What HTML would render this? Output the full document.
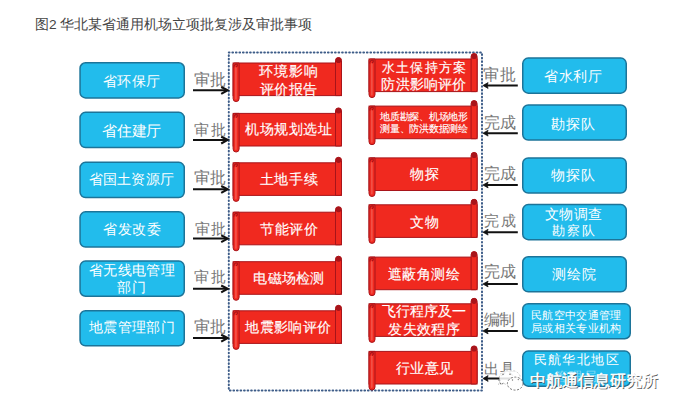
<!DOCTYPE html>
<html><head><meta charset="utf-8"><style>
html,body{margin:0;padding:0;background:#fff;width:679px;height:410px;overflow:hidden}
svg{display:block;font-family:"Liberation Sans", sans-serif}
</style></head><body>
<svg width="679" height="410" viewBox="0 0 679 410">
<rect x="228.8" y="52.6" width="253.2" height="337.9" fill="none" stroke="#3d5c88" stroke-width="2" stroke-dasharray="0.7 2.84" stroke-linecap="round"/>
<rect x="80.05" y="62.75" width="104.20" height="35.20" rx="5.5" ry="5.5" fill="#22bcec" stroke="#1c7499" stroke-width="1.5"/>
<text x="110.06 124.40 138.75 153.09" y="85.77" font-size="14.34" fill="#fff" text-anchor="middle" >省环保厅</text>
<text x="202.37 218.23" y="84.90" font-size="15.85" fill="#777" text-anchor="middle" >审批</text>
<line x1="193" y1="90.2" x2="226.7" y2="90.2" stroke="#111" stroke-width="2"/><path d="M221.20,87.00 L227.7,90.2 L221.20,93.80" fill="none" stroke="#111" stroke-width="2.1"/>
<rect x="80.05" y="112.35" width="104.20" height="35.20" rx="5.5" ry="5.5" fill="#22bcec" stroke="#1c7499" stroke-width="1.5"/>
<text x="109.92 124.54 139.16 153.78" y="135.72" font-size="14.59" fill="#fff" text-anchor="middle" >省住建厅</text>
<text x="201.83 218.57" y="135.00" font-size="15.06" fill="#777" text-anchor="middle" >审批</text>
<line x1="193" y1="139.9" x2="226.7" y2="139.9" stroke="#111" stroke-width="2"/><path d="M221.20,136.70 L227.7,139.9 L221.20,143.50" fill="none" stroke="#111" stroke-width="2.1"/>
<rect x="80.05" y="162.35" width="104.20" height="35.20" rx="5.5" ry="5.5" fill="#22bcec" stroke="#1c7499" stroke-width="1.5"/>
<text x="95.75 109.95 124.15 138.35 152.55 166.75" y="184.37" font-size="14.20" fill="#fff" text-anchor="middle" >省国土资源厅</text>
<text x="202.18 218.32" y="182.97" font-size="15.65" fill="#777" text-anchor="middle" >审批</text>
<line x1="193" y1="189.2" x2="226.7" y2="189.2" stroke="#111" stroke-width="2"/><path d="M221.20,186.00 L227.7,189.2 L221.20,192.80" fill="none" stroke="#111" stroke-width="2.1"/>
<rect x="80.05" y="211.85" width="104.20" height="35.20" rx="5.5" ry="5.5" fill="#22bcec" stroke="#1c7499" stroke-width="1.5"/>
<text x="110.37 124.86 139.34 153.83" y="233.68" font-size="14.48" fill="#fff" text-anchor="middle" >省发改委</text>
<text x="202.03 218.47" y="234.39" font-size="15.29" fill="#777" text-anchor="middle" >审批</text>
<line x1="193" y1="238.6" x2="226.7" y2="238.6" stroke="#111" stroke-width="2"/><path d="M221.20,235.40 L227.7,238.6 L221.20,242.20" fill="none" stroke="#111" stroke-width="2.1"/>
<rect x="80.05" y="261.05" width="104.20" height="35.20" rx="5.5" ry="5.5" fill="#22bcec" stroke="#1c7499" stroke-width="1.5"/>
<text x="95.91 110.25 124.58 138.92 153.25 167.59" y="275.34" font-size="14.12" fill="#fff" text-anchor="middle" >省无线电管理</text>
<text x="124.43 138.57" y="292.15" font-size="14.15" fill="#fff" text-anchor="middle" >部门</text>
<text x="201.87 218.63" y="282.40" font-size="14.94" fill="#777" text-anchor="middle" >审批</text>
<line x1="193" y1="288.7" x2="226.7" y2="288.7" stroke="#111" stroke-width="2"/><path d="M221.20,285.50 L227.7,288.7 L221.20,292.30" fill="none" stroke="#111" stroke-width="2.1"/>
<rect x="80.05" y="310.65" width="104.20" height="35.20" rx="5.5" ry="5.5" fill="#22bcec" stroke="#1c7499" stroke-width="1.5"/>
<text x="95.99 110.30 124.60 138.90 153.20 167.51" y="332.46" font-size="14.30" fill="#fff" text-anchor="middle" >地震管理部门</text>
<text x="202.34 218.26" y="332.47" font-size="15.76" fill="#777" text-anchor="middle" >审批</text>
<line x1="193" y1="338.0" x2="226.7" y2="338.0" stroke="#111" stroke-width="2"/><path d="M221.20,334.80 L227.7,338.0 L221.20,341.60" fill="none" stroke="#111" stroke-width="2.1"/>
<rect x="522.75" y="58.05" width="103.50" height="35.10" rx="5.5" ry="5.5" fill="#22bcec" stroke="#1c7499" stroke-width="1.5"/>
<text x="551.41 565.94 580.46 594.99" y="81.44" font-size="14.12" fill="#fff" text-anchor="middle" >省水利厅</text>
<text x="491.29 508.41" y="79.86" font-size="16.12" fill="#777" text-anchor="middle" >审批</text>
<line x1="484.9" y1="85.5" x2="517.8" y2="85.5" stroke="#111" stroke-width="1.9"/><path d="M482.9,85.5 L488.10,82.60 L487.10,85.50 L488.10,88.40 Z" fill="#111" stroke="#111" stroke-width="0.7" stroke-linejoin="round"/>
<rect x="522.75" y="104.95" width="103.50" height="35.10" rx="5.5" ry="5.5" fill="#22bcec" stroke="#1c7499" stroke-width="1.5"/>
<text x="558.01 573.20 588.39" y="128.64" font-size="14.12" fill="#fff" text-anchor="middle" >勘探队</text>
<text x="491.90 507.60" y="128.04" font-size="15.69" fill="#777" text-anchor="middle" >完成</text>
<line x1="484.9" y1="133.2" x2="517.8" y2="133.2" stroke="#111" stroke-width="1.9"/><path d="M482.9,133.2 L488.10,130.30 L487.10,133.20 L488.10,136.10 Z" fill="#111" stroke="#111" stroke-width="0.7" stroke-linejoin="round"/>
<rect x="522.75" y="157.95" width="103.50" height="35.10" rx="5.5" ry="5.5" fill="#22bcec" stroke="#1c7499" stroke-width="1.5"/>
<text x="558.40 573.25 588.10" y="180.35" font-size="13.65" fill="#fff" text-anchor="middle" >物探队</text>
<text x="491.63 508.17" y="178.78" font-size="15.53" fill="#777" text-anchor="middle" >完成</text>
<line x1="484.9" y1="185.0" x2="517.8" y2="185.0" stroke="#111" stroke-width="1.9"/><path d="M482.9,185.0 L488.10,182.10 L487.10,185.00 L488.10,187.90 Z" fill="#111" stroke="#111" stroke-width="0.7" stroke-linejoin="round"/>
<rect x="522.75" y="204.55" width="103.50" height="35.10" rx="5.5" ry="5.5" fill="#22bcec" stroke="#1c7499" stroke-width="1.5"/>
<text x="551.95 566.32 580.68 595.05" y="219.06" font-size="13.53" fill="#fff" text-anchor="middle" >文物调查</text>
<text x="558.15 573.25 588.35" y="234.78" font-size="13.06" fill="#fff" text-anchor="middle" >勘察队</text>
<text x="491.48 508.32" y="225.79" font-size="15.18" fill="#777" text-anchor="middle" >完成</text>
<line x1="484.9" y1="232.2" x2="517.8" y2="232.2" stroke="#111" stroke-width="1.9"/><path d="M482.9,232.2 L488.10,229.30 L487.10,232.20 L488.10,235.10 Z" fill="#111" stroke="#111" stroke-width="0.7" stroke-linejoin="round"/>
<rect x="522.75" y="256.75" width="103.50" height="35.10" rx="5.5" ry="5.5" fill="#22bcec" stroke="#1c7499" stroke-width="1.5"/>
<text x="558.50 573.60 588.70" y="279.15" font-size="13.65" fill="#fff" text-anchor="middle" >测绘院</text>
<text x="491.70 507.60" y="277.37" font-size="15.90" fill="#777" text-anchor="middle" >完成</text>
<line x1="484.9" y1="284.0" x2="517.8" y2="284.0" stroke="#111" stroke-width="1.9"/><path d="M482.9,284.0 L488.10,281.10 L487.10,284.00 L488.10,286.90 Z" fill="#111" stroke="#111" stroke-width="0.7" stroke-linejoin="round"/>
<rect x="522.75" y="303.65" width="107.50" height="35.10" rx="5.5" ry="5.5" fill="#22bcec" stroke="#1c7499" stroke-width="1.5"/>
<text x="536.59 547.92 559.25 570.58 581.92 593.25 604.58 615.91" y="319.26" font-size="11.33" fill="#fff" text-anchor="middle" >民航空中交通管理</text>
<text x="536.59 547.92 559.25 570.58 581.92 593.25 604.58 615.91" y="332.36" font-size="11.33" fill="#fff" text-anchor="middle" >局或相关专业机构</text>
<text x="491.53 507.27" y="324.66" font-size="15.74" fill="#777" text-anchor="middle" >编制</text>
<line x1="484.9" y1="331.0" x2="517.8" y2="331.0" stroke="#111" stroke-width="1.9"/><path d="M482.9,331.0 L488.10,328.10 L487.10,331.00 L488.10,333.90 Z" fill="#111" stroke="#111" stroke-width="0.7" stroke-linejoin="round"/>
<rect x="522.75" y="351.05" width="107.50" height="35.10" rx="5.5" ry="5.5" fill="#22bcec" stroke="#1c7499" stroke-width="1.5"/>
<text x="540.09 554.52 568.94 583.36 597.78 612.21" y="363.88" font-size="12.94" fill="#fff" text-anchor="middle" >民航华北地区</text>
<text x="560.19 575.25 590.31" y="380.58" font-size="12.94" fill="#fff" text-anchor="middle" fill-opacity="0.45">管理局</text>
<text x="491.38 507.42" y="373.58" font-size="15.41" fill="#777" text-anchor="middle" >出具</text>
<line x1="484.9" y1="378.5" x2="517.8" y2="378.5" stroke="#111" stroke-width="1.9"/><path d="M482.9,378.5 L488.10,375.60 L487.10,378.50 L488.10,381.40 Z" fill="#111" stroke="#111" stroke-width="0.7" stroke-linejoin="round"/>
<rect x="233.1" y="63.0" width="108.40" height="32.6" fill="#f0291f" stroke="#a8141a" stroke-width="1"/>
<path d="M335.50,95.60 L335.50,60.50 A3,3 0 0 1 341.50,60.50 L341.50,94.10 Q341.50,95.60 340.00,95.60 Z" fill="#f0291f" stroke="#a8141a" stroke-width="1"/>
<circle cx="338.50" cy="60.30" r="2.8" fill="#a8141a"/>
<path d="M233.10,64.50 Q233.10,63.00 234.60,63.00 L239.10,63.00 L239.10,98.60 A3,3 0 0 1 233.10,98.60 Z" fill="#f0291f" stroke="#a8141a" stroke-width="1"/>
<rect x="235.00" y="67.00" width="1.8" height="32.60" rx="0.9" fill="#f45a50" fill-opacity="0.8"/>
<path d="M233.80,67.50 Q234.10,63.90 237.10,64.00 Q238.10,66.00 236.10,67.00" fill="none" stroke="#a8141a" stroke-width="1.1"/>
<text x="266.40 281.10 295.80 310.50" y="76.05" font-size="13.65" fill="#fff" text-anchor="middle" stroke="#fff" stroke-width="0.15">环境影响</text>
<text x="266.72 281.21 295.69 310.18" y="93.63" font-size="14.35" fill="#fff" text-anchor="middle" stroke="#fff" stroke-width="0.15">评价报告</text>
<rect x="233.1" y="113.4" width="108.40" height="32.6" fill="#f0291f" stroke="#a8141a" stroke-width="1"/>
<path d="M335.50,146.00 L335.50,110.90 A3,3 0 0 1 341.50,110.90 L341.50,144.50 Q341.50,146.00 340.00,146.00 Z" fill="#f0291f" stroke="#a8141a" stroke-width="1"/>
<circle cx="338.50" cy="110.70" r="2.8" fill="#a8141a"/>
<path d="M233.10,114.90 Q233.10,113.40 234.60,113.40 L239.10,113.40 L239.10,149.00 A3,3 0 0 1 233.10,149.00 Z" fill="#f0291f" stroke="#a8141a" stroke-width="1"/>
<rect x="235.00" y="117.40" width="1.8" height="32.60" rx="0.9" fill="#f45a50" fill-opacity="0.8"/>
<path d="M233.80,117.90 Q234.10,114.30 237.10,114.40 Q238.10,116.40 236.10,117.40" fill="none" stroke="#a8141a" stroke-width="1.1"/>
<text x="252.27 266.74 281.21 295.69 310.16 324.63" y="134.47" font-size="14.47" fill="#fff" text-anchor="middle" stroke="#fff" stroke-width="0.15">机场规划选址</text>
<rect x="233.1" y="162.8" width="108.40" height="32.6" fill="#f0291f" stroke="#a8141a" stroke-width="1"/>
<path d="M335.50,195.40 L335.50,160.30 A3,3 0 0 1 341.50,160.30 L341.50,193.90 Q341.50,195.40 340.00,195.40 Z" fill="#f0291f" stroke="#a8141a" stroke-width="1"/>
<circle cx="338.50" cy="160.10" r="2.8" fill="#a8141a"/>
<path d="M233.10,164.30 Q233.10,162.80 234.60,162.80 L239.10,162.80 L239.10,198.40 A3,3 0 0 1 233.10,198.40 Z" fill="#f0291f" stroke="#a8141a" stroke-width="1"/>
<rect x="235.00" y="166.80" width="1.8" height="32.60" rx="0.9" fill="#f45a50" fill-opacity="0.8"/>
<path d="M233.80,167.30 Q234.10,163.70 237.10,163.80 Q238.10,165.80 236.10,166.80" fill="none" stroke="#a8141a" stroke-width="1.1"/>
<text x="266.71 281.47 296.23 310.99" y="184.14" font-size="14.12" fill="#fff" text-anchor="middle" stroke="#fff" stroke-width="0.15">土地手续</text>
<rect x="233.1" y="212.2" width="108.40" height="32.6" fill="#f0291f" stroke="#a8141a" stroke-width="1"/>
<path d="M335.50,244.80 L335.50,209.70 A3,3 0 0 1 341.50,209.70 L341.50,243.30 Q341.50,244.80 340.00,244.80 Z" fill="#f0291f" stroke="#a8141a" stroke-width="1"/>
<circle cx="338.50" cy="209.50" r="2.8" fill="#a8141a"/>
<path d="M233.10,213.70 Q233.10,212.20 234.60,212.20 L239.10,212.20 L239.10,247.80 A3,3 0 0 1 233.10,247.80 Z" fill="#f0291f" stroke="#a8141a" stroke-width="1"/>
<rect x="235.00" y="216.20" width="1.8" height="32.60" rx="0.9" fill="#f45a50" fill-opacity="0.8"/>
<path d="M233.80,216.70 Q234.10,213.10 237.10,213.20 Q238.10,215.20 236.10,216.20" fill="none" stroke="#a8141a" stroke-width="1.1"/>
<text x="267.37 281.86 296.34 310.83" y="233.73" font-size="14.48" fill="#fff" text-anchor="middle" stroke="#fff" stroke-width="0.15">节能评价</text>
<rect x="233.1" y="261.7" width="108.40" height="32.6" fill="#f0291f" stroke="#a8141a" stroke-width="1"/>
<path d="M335.50,294.30 L335.50,259.20 A3,3 0 0 1 341.50,259.20 L341.50,292.80 Q341.50,294.30 340.00,294.30 Z" fill="#f0291f" stroke="#a8141a" stroke-width="1"/>
<circle cx="338.50" cy="259.00" r="2.8" fill="#a8141a"/>
<path d="M233.10,263.20 Q233.10,261.70 234.60,261.70 L239.10,261.70 L239.10,297.30 A3,3 0 0 1 233.10,297.30 Z" fill="#f0291f" stroke="#a8141a" stroke-width="1"/>
<rect x="235.00" y="265.70" width="1.8" height="32.60" rx="0.9" fill="#f45a50" fill-opacity="0.8"/>
<path d="M233.80,266.20 Q234.10,262.60 237.10,262.70 Q238.10,264.70 236.10,265.70" fill="none" stroke="#a8141a" stroke-width="1.1"/>
<text x="260.27 274.51 288.75 302.99 317.23" y="282.93" font-size="14.24" fill="#fff" text-anchor="middle" stroke="#fff" stroke-width="0.15">电磁场检测</text>
<rect x="233.1" y="310.8" width="108.40" height="32.6" fill="#f0291f" stroke="#a8141a" stroke-width="1"/>
<path d="M335.50,343.40 L335.50,308.30 A3,3 0 0 1 341.50,308.30 L341.50,341.90 Q341.50,343.40 340.00,343.40 Z" fill="#f0291f" stroke="#a8141a" stroke-width="1"/>
<circle cx="338.50" cy="308.10" r="2.8" fill="#a8141a"/>
<path d="M233.10,312.30 Q233.10,310.80 234.60,310.80 L239.10,310.80 L239.10,346.40 A3,3 0 0 1 233.10,346.40 Z" fill="#f0291f" stroke="#a8141a" stroke-width="1"/>
<rect x="235.00" y="314.80" width="1.8" height="32.60" rx="0.9" fill="#f45a50" fill-opacity="0.8"/>
<path d="M233.80,315.30 Q234.10,311.70 237.10,311.80 Q238.10,313.80 236.10,314.80" fill="none" stroke="#a8141a" stroke-width="1.1"/>
<text x="252.41 266.74 281.08 295.42 309.76 324.09" y="332.47" font-size="14.34" fill="#fff" text-anchor="middle" stroke="#fff" stroke-width="0.15">地震影响评价</text>
<rect x="369.0" y="59.0" width="108.10" height="32.6" fill="#f0291f" stroke="#a8141a" stroke-width="1"/>
<path d="M471.10,91.60 L471.10,56.50 A3,3 0 0 1 477.10,56.50 L477.10,90.10 Q477.10,91.60 475.60,91.60 Z" fill="#f0291f" stroke="#a8141a" stroke-width="1"/>
<circle cx="474.10" cy="56.30" r="2.8" fill="#a8141a"/>
<path d="M369.00,60.50 Q369.00,59.00 370.50,59.00 L375.00,59.00 L375.00,94.60 A3,3 0 0 1 369.00,94.60 Z" fill="#f0291f" stroke="#a8141a" stroke-width="1"/>
<rect x="370.90" y="63.00" width="1.8" height="32.60" rx="0.9" fill="#f45a50" fill-opacity="0.8"/>
<path d="M369.70,63.50 Q370.00,59.90 373.00,60.00 Q374.00,62.00 372.00,63.00" fill="none" stroke="#a8141a" stroke-width="1.1"/>
<text x="388.05 402.39 416.73 431.07 445.41 459.75" y="71.87" font-size="13.29" fill="#fff" text-anchor="middle" stroke="#fff" stroke-width="0.15">水土保持方案</text>
<text x="388.44 402.62 416.81 430.99 445.18 459.36" y="88.81" font-size="14.18" fill="#fff" text-anchor="middle" stroke="#fff" stroke-width="0.15">防洪影响评价</text>
<rect x="369.0" y="106.1" width="108.10" height="32.6" fill="#f0291f" stroke="#a8141a" stroke-width="1"/>
<path d="M471.10,138.70 L471.10,103.60 A3,3 0 0 1 477.10,103.60 L477.10,137.20 Q477.10,138.70 475.60,138.70 Z" fill="#f0291f" stroke="#a8141a" stroke-width="1"/>
<circle cx="474.10" cy="103.40" r="2.8" fill="#a8141a"/>
<path d="M369.00,107.60 Q369.00,106.10 370.50,106.10 L375.00,106.10 L375.00,141.70 A3,3 0 0 1 369.00,141.70 Z" fill="#f0291f" stroke="#a8141a" stroke-width="1"/>
<rect x="370.90" y="110.10" width="1.8" height="32.60" rx="0.9" fill="#f45a50" fill-opacity="0.8"/>
<path d="M369.70,110.60 Q370.00,107.00 373.00,107.10 Q374.00,109.10 372.00,110.10" fill="none" stroke="#a8141a" stroke-width="1.1"/>
<text x="385.27 394.98 404.69 414.39 424.10 433.81 443.51 453.22 462.93" y="119.59" font-size="9.71" fill="#fff" text-anchor="middle" stroke="#fff" stroke-width="0.15">地质勘探、机场地形</text>
<text x="385.27 394.98 404.69 414.39 424.10 433.81 443.51 453.22 462.93" y="132.09" font-size="9.71" fill="#fff" text-anchor="middle" stroke="#fff" stroke-width="0.15">测量、防洪数据测绘</text>
<rect x="369.0" y="157.9" width="108.10" height="32.6" fill="#f0291f" stroke="#a8141a" stroke-width="1"/>
<path d="M471.10,190.50 L471.10,155.40 A3,3 0 0 1 477.10,155.40 L477.10,189.00 Q477.10,190.50 475.60,190.50 Z" fill="#f0291f" stroke="#a8141a" stroke-width="1"/>
<circle cx="474.10" cy="155.20" r="2.8" fill="#a8141a"/>
<path d="M369.00,159.40 Q369.00,157.90 370.50,157.90 L375.00,157.90 L375.00,193.50 A3,3 0 0 1 369.00,193.50 Z" fill="#f0291f" stroke="#a8141a" stroke-width="1"/>
<rect x="370.90" y="161.90" width="1.8" height="32.60" rx="0.9" fill="#f45a50" fill-opacity="0.8"/>
<path d="M369.70,162.40 Q370.00,158.80 373.00,158.90 Q374.00,160.90 372.00,161.90" fill="none" stroke="#a8141a" stroke-width="1.1"/>
<text x="416.71 432.09" y="179.14" font-size="14.12" fill="#fff" text-anchor="middle" stroke="#fff" stroke-width="0.15">物探</text>
<rect x="369.0" y="204.8" width="108.10" height="32.6" fill="#f0291f" stroke="#a8141a" stroke-width="1"/>
<path d="M471.10,237.40 L471.10,202.30 A3,3 0 0 1 477.10,202.30 L477.10,235.90 Q477.10,237.40 475.60,237.40 Z" fill="#f0291f" stroke="#a8141a" stroke-width="1"/>
<circle cx="474.10" cy="202.10" r="2.8" fill="#a8141a"/>
<path d="M369.00,206.30 Q369.00,204.80 370.50,204.80 L375.00,204.80 L375.00,240.40 A3,3 0 0 1 369.00,240.40 Z" fill="#f0291f" stroke="#a8141a" stroke-width="1"/>
<rect x="370.90" y="208.80" width="1.8" height="32.60" rx="0.9" fill="#f45a50" fill-opacity="0.8"/>
<path d="M369.70,209.30 Q370.00,205.70 373.00,205.80 Q374.00,207.80 372.00,208.80" fill="none" stroke="#a8141a" stroke-width="1.1"/>
<text x="417.20 432.30" y="226.65" font-size="13.65" fill="#fff" text-anchor="middle" stroke="#fff" stroke-width="0.15">文物</text>
<rect x="369.0" y="257.1" width="108.10" height="32.6" fill="#f0291f" stroke="#a8141a" stroke-width="1"/>
<path d="M471.10,289.70 L471.10,254.60 A3,3 0 0 1 477.10,254.60 L477.10,288.20 Q477.10,289.70 475.60,289.70 Z" fill="#f0291f" stroke="#a8141a" stroke-width="1"/>
<circle cx="474.10" cy="254.40" r="2.8" fill="#a8141a"/>
<path d="M369.00,258.60 Q369.00,257.10 370.50,257.10 L375.00,257.10 L375.00,292.70 A3,3 0 0 1 369.00,292.70 Z" fill="#f0291f" stroke="#a8141a" stroke-width="1"/>
<rect x="370.90" y="261.10" width="1.8" height="32.60" rx="0.9" fill="#f45a50" fill-opacity="0.8"/>
<path d="M369.70,261.60 Q370.00,258.00 373.00,258.10 Q374.00,260.10 372.00,261.10" fill="none" stroke="#a8141a" stroke-width="1.1"/>
<text x="394.76 409.31 423.85 438.39 452.94" y="279.13" font-size="14.24" fill="#fff" text-anchor="middle" stroke="#fff" stroke-width="0.15">遮蔽角测绘</text>
<rect x="369.0" y="303.8" width="108.10" height="32.6" fill="#f0291f" stroke="#a8141a" stroke-width="1"/>
<path d="M471.10,336.40 L471.10,301.30 A3,3 0 0 1 477.10,301.30 L477.10,334.90 Q477.10,336.40 475.60,336.40 Z" fill="#f0291f" stroke="#a8141a" stroke-width="1"/>
<circle cx="474.10" cy="301.10" r="2.8" fill="#a8141a"/>
<path d="M369.00,305.30 Q369.00,303.80 370.50,303.80 L375.00,303.80 L375.00,339.40 A3,3 0 0 1 369.00,339.40 Z" fill="#f0291f" stroke="#a8141a" stroke-width="1"/>
<rect x="370.90" y="307.80" width="1.8" height="32.60" rx="0.9" fill="#f45a50" fill-opacity="0.8"/>
<path d="M369.70,308.30 Q370.00,304.70 373.00,304.80 Q374.00,306.80 372.00,307.80" fill="none" stroke="#a8141a" stroke-width="1.1"/>
<text x="388.70 402.84 416.98 431.12 445.26 459.40" y="316.25" font-size="13.65" fill="#fff" text-anchor="middle" stroke="#fff" stroke-width="0.15">飞行程序及一</text>
<text x="395.33 409.71 424.10 438.49 452.87" y="334.49" font-size="14.39" fill="#fff" text-anchor="middle" stroke="#fff" stroke-width="0.15">发失效程序</text>
<rect x="369.0" y="351.4" width="108.10" height="32.6" fill="#f0291f" stroke="#a8141a" stroke-width="1"/>
<path d="M471.10,384.00 L471.10,348.90 A3,3 0 0 1 477.10,348.90 L477.10,382.50 Q477.10,384.00 475.60,384.00 Z" fill="#f0291f" stroke="#a8141a" stroke-width="1"/>
<circle cx="474.10" cy="348.70" r="2.8" fill="#a8141a"/>
<path d="M369.00,352.90 Q369.00,351.40 370.50,351.40 L375.00,351.40 L375.00,387.00 A3,3 0 0 1 369.00,387.00 Z" fill="#f0291f" stroke="#a8141a" stroke-width="1"/>
<rect x="370.90" y="355.40" width="1.8" height="32.60" rx="0.9" fill="#f45a50" fill-opacity="0.8"/>
<path d="M369.70,355.90 Q370.00,352.30 373.00,352.40 Q374.00,354.40 372.00,355.40" fill="none" stroke="#a8141a" stroke-width="1.1"/>
<text x="402.61 417.10 431.60 446.09" y="372.94" font-size="13.88" fill="#fff" text-anchor="middle" stroke="#fff" stroke-width="0.15">行业意见</text>
<text x="35" y="29" font-size="13.7" fill="#454545">图2 华北某省通用机场立项批复涉及审批事项</text>
<path d="M498.5,384.5 L500.2,380.8 A10.5,7.6 0 1 1 507,385 L503.5,383.2 Z" fill="#fff" fill-opacity="0.86" stroke="#666" stroke-width="0.9" stroke-dasharray="2 1.6" stroke-opacity="0.35"/>
<path d="M498.5,379.5 L501,384.5 L503.5,383.2" fill="none" stroke="#666" stroke-width="0.9" stroke-dasharray="2 1.4"/>
<ellipse cx="515.2" cy="383.6" rx="7.8" ry="6.5" fill="#fff" fill-opacity="0.9" stroke="#666" stroke-width="0.9" stroke-dasharray="2 1.6"/>
<g fill="#777"><circle cx="503" cy="374.3" r="0.8"/><circle cx="510" cy="374.3" r="0.8"/><circle cx="512.5" cy="380" r="0.7"/><circle cx="518.3" cy="379.6" r="0.7"/></g>
<g font-size="16"><text x="530.8" y="387.2" fill="#333" fill-opacity="0.85" stroke="#555" stroke-width="0.4" stroke-opacity="0.6">中航通信息研究所</text><text x="529.6" y="386.1" fill="#fff" stroke="#fff" stroke-width="0.55">中航通信息研究所</text></g>
</svg>
</body></html>
